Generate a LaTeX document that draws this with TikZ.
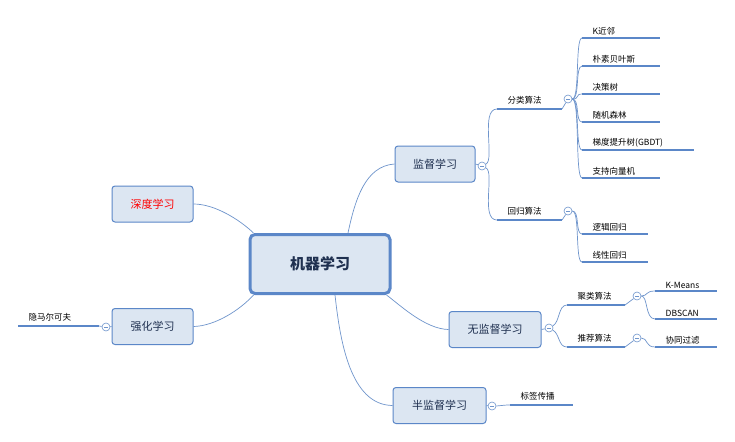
\documentclass[tikz,border=0pt]{standalone}
\usepackage{fontspec}
\setmainfont{Noto Sans CJK SC}
\begin{document}
\begin{tikzpicture}[x=1pt,y=-1pt,
  line/.style={draw=lb, line width=0.7pt},
  ul/.style={draw=ub, line width=1.8pt},
  box/.style={draw=ub, line width=1pt, fill=bf, rounded corners=3pt, font=\fontsize{11}{12}\selectfont, text=tb, minimum height=36pt},
  leaf/.style={anchor=south west, inner sep=2.5pt, font=\fontsize{8.5}{9}\selectfont, text=black},
  col/.style={circle, draw=lb, fill=white, line width=0.6pt, minimum size=8pt, inner sep=0pt,
    path picture={\draw[lb,line width=0.6pt] ([xshift=-2pt]path picture bounding box.center) -- ([xshift=2pt]path picture bounding box.center);}}
]
\definecolor{lb}{HTML}{6F95CC}
\definecolor{ub}{HTML}{5B87C8}
\definecolor{bf}{HTML}{DCE6F2}
\definecolor{tb}{HTML}{1F3050}
\useasboundingbox (0,0) rectangle (735,441);
\fill[white] (0,0) rectangle (735,441);

\node[draw=ub, line width=3pt, fill=bf, rounded corners=5pt, minimum width=140pt, minimum height=59pt, font=\fontsize{15}{16}\selectfont\bfseries, text=tb] (root) at (320,264) {机器学习};
\node[box, minimum width=80pt] (sup) at (435,164) {监督学习};
\node[box, minimum width=81pt, text=red] (deep) at (152.5,204) {深度学习};
\node[box, minimum width=81pt] (rl) at (152.5,326.5) {强化学习};
\node[box, minimum width=92pt] (uns) at (495,329.5) {无监督学习};
\node[box, minimum width=93pt] (semi) at (439.5,405.5) {半监督学习};

% root links
\draw[line] (root.north) ++(28,0) .. controls (355,200) and (365,166) .. (sup.west);
\draw[line] (root.north west) ++(5,0) .. controls (240,220) and (215,204) .. (deep.east);
\draw[line] (root.south west) ++(5,0) .. controls (240,310) and (215,326) .. (rl.east);
\draw[line] (root.south east) ++(-5,0) .. controls (400,305) and (425,329) .. (uns.west);
\draw[line] (root.south) ++(15,0) .. controls (340,340) and (350,405) .. (semi.west);

% supervised
\node[col] (c1) at (482,166) {};
\draw[line] (sup.east) -- (c1);
\node[leaf] (fl) at (505,107) {分类算法};
\node[leaf] (hg) at (505,218) {回归算法};
\coordinate (fls) at (497,109); \coordinate (fle) at (562,109);
\coordinate (hgs) at (497,220); \coordinate (hge) at (562,220);
\draw[ul] (fls) -- (fle); \draw[ul] (hgs) -- (hge);
\draw[line] (c1) .. controls (495,160) and (480,109) .. (fls);
\draw[line] (c1) .. controls (495,172) and (480,220) .. (hgs);
\node[col] (c2) at (568,99) {};
\node[col] (c3) at (568,211) {};
\draw[line] (fle) -- (c2); \draw[line] (hge) -- (c3);

\foreach \n/\y/\t/\w in {k1/38/K近邻/78, k2/66/朴素贝叶斯/78, k3/94/决策树/78, k4/122/随机森林/78, k5/150/梯度提升树(GBDT)/112, k6/178/支持向量机/78}{
  \node[leaf] (\n) at (590,\y) {\t};
  \coordinate (\n s) at (582,\y);
  \draw[ul] (\n s) -- ++(\w,0);
  \draw[line] (c2) .. controls (580,99) and (575,\y) .. (\n s);
}
\foreach \n/\y/\t in {r1/234/逻辑回归, r2/262/线性回归}{
  \node[leaf] (\n) at (590,\y) {\t};
  \coordinate (\n s) at (582,\y);
  \draw[ul] (\n s) -- ++(66,0);
  \draw[line] (c3) .. controls (580,211) and (575,\y) .. (\n s);
}

% unsupervised
\node[col] (c4) at (549,328) {};
\draw[line] (uns.east) -- (c4);
\node[leaf] (jl) at (575,303) {聚类算法};
\node[leaf] (tj) at (575,345) {推荐算法};
\coordinate (jls) at (567,305); \coordinate (jle) at (625,305);
\coordinate (tjs) at (567,347); \coordinate (tje) at (625,347);
\draw[ul] (jls) -- (jle); \draw[ul] (tjs) -- (tje);
\draw[line] (c4) .. controls (560,322) and (558,305) .. (jls);
\draw[line] (c4) .. controls (560,334) and (558,347) .. (tjs);
\node[col] (c5) at (637,296) {};
\node[col] (c6) at (637,338) {};
\draw[line] (jle) -- (c5); \draw[line] (tje) -- (c6);
\foreach \n/\y/\t/\c in {m1/291/K-Means/c5, m2/319/DBSCAN/c5, m3/347/协同过滤/c6}{
  \node[leaf] (\n) at (663,\y) {\t};
  \coordinate (\n s) at (655,\y);
  \draw[ul] (\n s) -- ++(62,0);
}
\draw[line] (c5) .. controls (648,296) and (645,291) .. (m1s);
\draw[line] (c5) .. controls (648,296) and (645,319) .. (m2s);
\draw[line] (c6) .. controls (648,338) and (645,347) .. (m3s);

% semi
\node[col] (c7) at (492,406) {};
\draw[line] (semi.east) -- (c7);
\node[leaf] (bq) at (518,403) {标签传播};
\coordinate (bqs) at (510,405);
\draw[ul] (bqs) -- ++(63,0);
\draw[line] (c7) .. controls (500,406) and (502,405) .. (bqs);

% reinforcement
\node[col] (c8) at (106,327) {};
\draw[line] (rl.west) -- (c8);
\node[leaf] (hm) at (26,324) {隐马尔可夫};
\coordinate (hme) at (99,326);
\draw[ul] (18,326) -- (hme);
\draw[line] (c8) -- (hme);
\end{tikzpicture}
\end{document}
